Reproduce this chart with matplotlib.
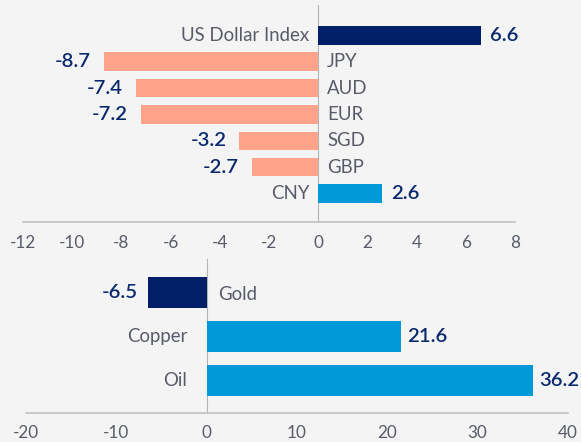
import matplotlib
matplotlib.use("Agg")
import matplotlib.pyplot as plt

# Currency moves (%)
fx_labels = ["US Dollar Index", "JPY", "AUD", "EUR", "SGD", "GBP", "CNY"]
fx_values = [6.6, -8.7, -7.4, -7.2, -3.2, -2.7, 2.6]
fx_ticks = [-12, -10, -8, -6, -4, -2, 0, 2, 4, 6, 8]

# Commodity moves (%)
cm_labels = ["Gold", "Copper", "Oil"]
cm_values = [-6.5, 21.6, 36.2]
cm_ticks = [-20, -10, 0, 10, 20, 30, 40]

NAVY = "#001f66"
SALMON = "#ffa38a"
BLUE = "#009ad9"
BG = "#f4f4f4"
LABEL = "#575c68"
VALUE = "#0b2a6e"

plt.rcParams["font.family"] = ["Lato", "DejaVu Sans"]

fig = plt.figure(figsize=(5.81, 4.42), dpi=100, facecolor=BG)

fx_colors = [NAVY] + [SALMON] * 5 + [BLUE]
cm_colors = [NAVY, BLUE, BLUE]


def style_axes(ax, xlim, ticks):
    ax.set_facecolor(BG)
    ax.set_xlim(*xlim)
    ax.set_xticks(ticks)
    ax.set_xticklabels([str(t) for t in ticks])
    ax.set_yticks([])
    for side in ("top", "right", "left"):
        ax.spines[side].set_visible(False)
    ax.spines["bottom"].set_color("#bdbdbd")
    ax.spines["bottom"].set_linewidth(1.1)
    ax.tick_params(axis="x", length=0, pad=9, labelsize=12.3, labelcolor=LABEL)
    ax.axvline(0, color="#b3b3b3", lw=0.8, zorder=1)


def annotate_bars(ax, labels, values, cat_gap, val_gap_pos, val_gap_neg,
                  cat_gap_neg=None, neg_label_dy=0):
    if cat_gap_neg is None:
        cat_gap_neg = cat_gap
    for i, (lab, v) in enumerate(zip(labels, values)):
        if v >= 0:
            ax.annotate(lab, (0, i), xytext=(-cat_gap, 0), textcoords="offset pixels",
                        ha="right", va="center", fontsize=13.4, color=LABEL)
            ax.annotate(f"{v:.1f}", (v, i), xytext=(val_gap_pos, 0),
                        textcoords="offset pixels", ha="left", va="center",
                        fontsize=14.6, fontweight="semibold", color=VALUE)
        else:
            ax.annotate(lab, (0, i), xytext=(cat_gap_neg, neg_label_dy),
                        textcoords="offset pixels",
                        ha="left", va="center", fontsize=13.4, color=LABEL)
            ax.annotate(f"{v:.1f}", (v, i), xytext=(-val_gap_neg, 0),
                        textcoords="offset pixels", ha="right", va="center",
                        fontsize=14.6, fontweight="semibold", color=VALUE)


# Top panel: currencies
ax1 = fig.add_axes([23 / 581, 1 - 222.3 / 442, (515 - 23) / 581, (222.3 - 5) / 442])
style_axes(ax1, (-12, 8), fx_ticks)
ax1.barh(range(len(fx_values)), fx_values, height=0.70, color=fx_colors, zorder=2)
ax1.set_ylim(7.09, -1.15)
annotate_bars(ax1, fx_labels, fx_values, cat_gap=9, val_gap_pos=9, val_gap_neg=13)

# Bottom panel: commodities
ax2 = fig.add_axes([26 / 581, 1 - 413 / 442, (567.5 - 26) / 581, (413 - 259) / 442])
style_axes(ax2, (-20, 40), cm_ticks)
ax2.barh(range(len(cm_values)), cm_values, height=0.70, color=cm_colors, zorder=2)
ax2.set_ylim(2.74, -0.76)
annotate_bars(ax2, cm_labels, cm_values, cat_gap=19, val_gap_pos=6, val_gap_neg=10,
              cat_gap_neg=12, neg_label_dy=-2)

fig.savefig("out.png", dpi=100, facecolor=BG)
